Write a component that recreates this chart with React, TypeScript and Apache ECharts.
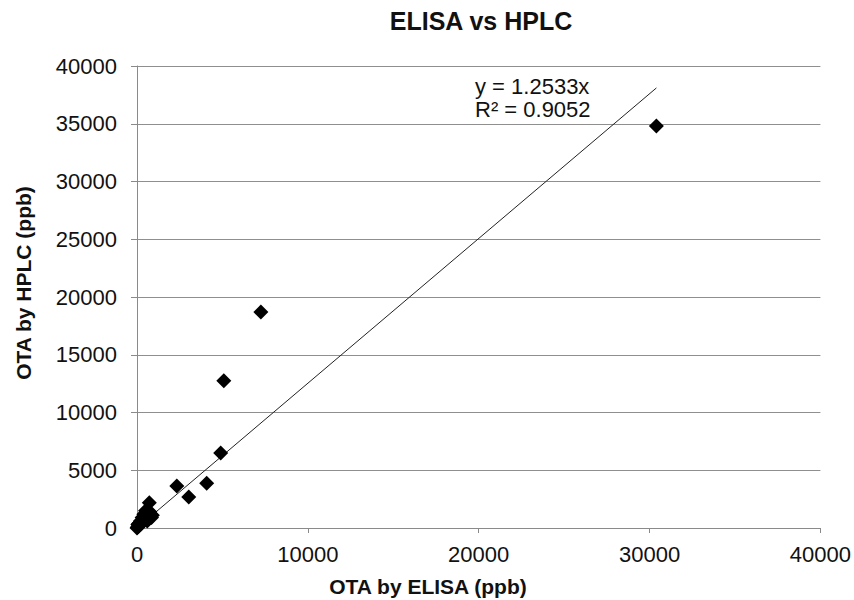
import React, { useEffect, useRef } from "react";
import * as echarts from "echarts";

const titleText = "ELISA vs HPLC";
const xAxisName = "OTA by ELISA (ppb)";
const yAxisName = "OTA by HPLC (ppb)";
const equationLines = ["y = 1.2533x", "R² = 0.9052"];
const slope = 1.2533;

// ELISA (x) values, ppb
const elisaValues = [
  30400, 7250, 5080, 4900, 2330, 3030, 4080, 720,
  0, 30, 60, 100, 150, 200, 250, 300, 350, 400, 450, 500,
  550, 600, 650, 700, 800, 850, 900, 200, 300, 100, 400, 500, 600, 750, 50,
];
// HPLC (y) values, ppb
const hplcValues = [
  34800, 18700, 12750, 6500, 3640, 2680, 3880, 2180,
  0, 60, 120, 150, 250, 300, 400, 500, 650, 800, 900, 1100,
  1300, 1500, 1000, 800, 1200, 900, 1100, 600, 900, 400, 1200, 1500, 600, 1400, 300,
];

const axisMin = 0;
const axisMax = 40000;
const axisInterval = 10000;
const yAxisInterval = 5000;

const FONT = '"Liberation Sans", Arial, Helvetica, sans-serif';

export default function App() {
  const ref = useRef<HTMLDivElement>(null);

  useEffect(() => {
    if (!ref.current) return;
    const chart = echarts.init(ref.current, null, { renderer: "svg" });
    const points = elisaValues.map((x, i) => [x, hplcValues[i]]);
    const maxX = Math.max(...elisaValues);
    const trend = [
      [0, 0],
      [maxX, maxX * slope],
    ];
    const plain = (v: number) => String(v);

    chart.setOption({
      animation: false,
      backgroundColor: "#ffffff",
      textStyle: { fontFamily: FONT },
      grid: { left: 137, right: 31, top: 66, bottom: 72, containLabel: false },
      xAxis: {
        type: "value",
        min: axisMin,
        max: axisMax,
        interval: axisInterval,
        axisLine: { show: true, lineStyle: { color: "#8a8a8a", width: 1 } },
        axisTick: { show: true, length: 5, lineStyle: { color: "#8a8a8a" } },
        axisLabel: { color: "#111", fontSize: 22, fontFamily: FONT, margin: 15, formatter: plain },
        splitLine: { show: false },
      },
      yAxis: {
        type: "value",
        min: axisMin,
        max: axisMax,
        interval: yAxisInterval,
        axisLine: { show: true, lineStyle: { color: "#8a8a8a", width: 1 } },
        axisTick: { show: true, length: 6, lineStyle: { color: "#8a8a8a" } },
        axisLabel: { color: "#111", fontSize: 22, fontFamily: FONT, margin: 20, formatter: plain },
        splitLine: { show: true, lineStyle: { color: "#8f8f8f", width: 1 } },
      },
      graphic: [
        {
          type: "text",
          x: 481,
          y: 21,
          style: {
            text: titleText,
            fill: "#111",
            font: `bold 25px ${FONT}`,
            align: "center",
            verticalAlign: "middle",
          },
        },
        {
          type: "text",
          x: 428,
          y: 586,
          style: {
            text: xAxisName,
            fill: "#111",
            font: `bold 21px ${FONT}`,
            align: "center",
            verticalAlign: "middle",
          },
        },
        {
          type: "text",
          x: 23,
          y: 283,
          rotation: Math.PI / 2,
          style: {
            text: yAxisName,
            fill: "#111",
            font: `bold 21px ${FONT}`,
            align: "center",
            verticalAlign: "middle",
          },
        },
        {
          type: "text",
          x: 475,
          y: 86,
          style: {
            text: equationLines[0],
            fill: "#111",
            font: `22px ${FONT}`,
            align: "left",
            verticalAlign: "middle",
          },
        },
        {
          type: "text",
          x: 475,
          y: 109,
          style: {
            text: equationLines[1],
            fill: "#111",
            font: `22px ${FONT}`,
            align: "left",
            verticalAlign: "middle",
          },
        },
      ],
      series: [
        {
          type: "line",
          data: trend,
          symbol: "none",
          lineStyle: { color: "#222", width: 1 },
          z: 3,
        },
        {
          type: "scatter",
          data: points,
          symbol: "diamond",
          symbolSize: 15,
          itemStyle: { color: "#000", opacity: 1 },
          z: 4,
        },
      ],
    });

    return () => chart.dispose();
  }, []);

  return (
    <div
      ref={ref}
      style={{ position: "fixed", left: 0, top: 0, width: 854, height: 600 }}
    />
  );
}
